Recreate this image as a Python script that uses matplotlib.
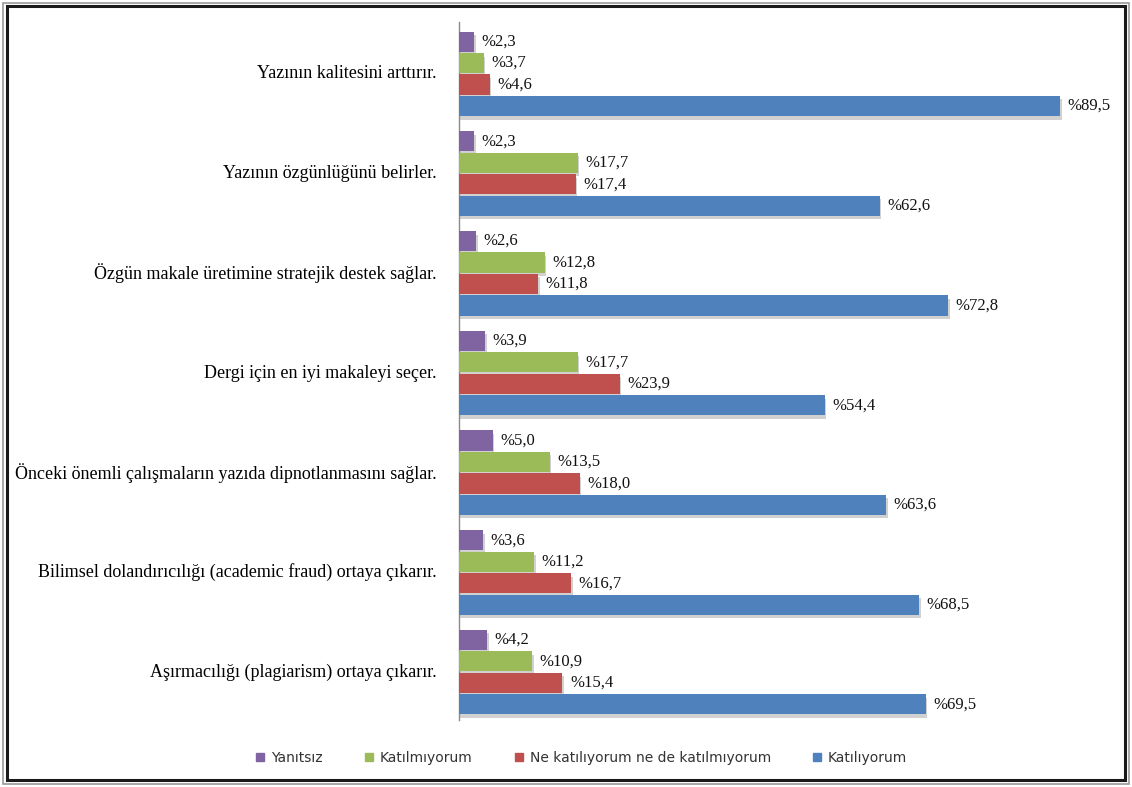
import matplotlib
matplotlib.use("Agg")
import matplotlib.pyplot as plt
import matplotlib.patheffects as pe
from matplotlib.lines import Line2D
from matplotlib.patches import Rectangle
import numpy as np

categories = [
    "Yazının kalitesini arttırır.",
    "Yazının özgünlüğünü belirler.",
    "Özgün makale üretimine stratejik destek sağlar.",
    "Dergi için en iyi makaleyi seçer.",
    "Önceki önemli çalışmaların yazıda dipnotlanmasını sağlar.",
    "Bilimsel dolandırıcılığı (academic fraud) ortaya çıkarır.",
    "Aşırmacılığı (plagiarism) ortaya çıkarır.",
]
series_names = ["Yanıtsız", "Katılmıyorum", "Ne katılıyorum ne de katılmıyorum", "Katılıyorum"]
yanitsiz = [2.3, 2.3, 2.6, 3.9, 5.0, 3.6, 4.2]
katilmiyorum = [3.7, 17.7, 12.8, 17.7, 13.5, 11.2, 10.9]
ne_ne = [4.6, 17.4, 11.8, 23.9, 18.0, 16.7, 15.4]
katiliyorum = [89.5, 62.6, 72.8, 54.4, 63.6, 68.5, 69.5]
colors = ["#8064A2", "#9BBB59", "#C0504D", "#4F81BD"]

W, H = 1132, 787
fig = plt.figure(figsize=(W / 100, H / 100), dpi=100)
fig.patch.set_facecolor("white")

ax = fig.add_axes([459 / W, 1 - 720 / H, 672 / W, (720 - 22) / H])

n = len(categories)
bh = 0.215
series = [yanitsiz, katilmiyorum, ne_ne, katiliyorum]
centers = np.arange(n) + 0.02
for i, (vals, col) in enumerate(zip(series, colors)):
    ypos = centers + (i - 1.5) * bh
    ax.barh(ypos, vals, height=bh * 0.94, color=col, edgecolor="none", zorder=3,
            path_effects=[pe.SimplePatchShadow(offset=(1, -2.5), shadow_rgbFace="#999999", alpha=0.45),
                          pe.Normal()])
    for y, v in zip(ypos, vals):
        ax.text(v + 1.1, y, "%" + f"{v:.1f}".replace(".", ","), va="center", ha="left",
                fontsize=12, family="Liberation Serif", color="#111111", zorder=4)

ax.set_ylim(n - 0.5, -0.5)
ax.set_xlim(0, 100)
ax.set_yticks(np.arange(n))
ax.set_yticklabels(categories, family="Liberation Serif", fontsize=13)
ax.tick_params(axis="y", length=0, pad=16)
ax.set_xticks([])
for s in ["top", "right", "bottom"]:
    ax.spines[s].set_visible(False)
ax.spines["left"].set_color("#8a8a8a")
ax.spines["left"].set_linewidth(1)
ax.patch.set_alpha(0)

handles = [Line2D([], [], marker="s", linestyle="none", markersize=6, color=c) for c in colors]
leg = fig.legend(handles, series_names, loc="center", bbox_to_anchor=(581 / W, 1 - 758 / H),
                 ncol=4, frameon=False, handletextpad=0.4, columnspacing=2.9,
                 handlelength=0.8, prop={"family": "DejaVu Sans", "size": 10})
for t in leg.get_texts():
    t.set_color("#333333")

# double frame
fig.add_artist(Rectangle((3 / W, 3 / H), 1 - 6 / W, 1 - 6 / H, transform=fig.transFigure,
                         fill=False, edgecolor="#9a9a9a", linewidth=1.2))
fig.add_artist(Rectangle((7 / W, 7 / H), 1 - 14 / W, 1 - 13 / H, transform=fig.transFigure,
                         fill=False, edgecolor="#1a1a1a", linewidth=2.2))

fig.savefig("out.png", dpi=100, facecolor="white")
